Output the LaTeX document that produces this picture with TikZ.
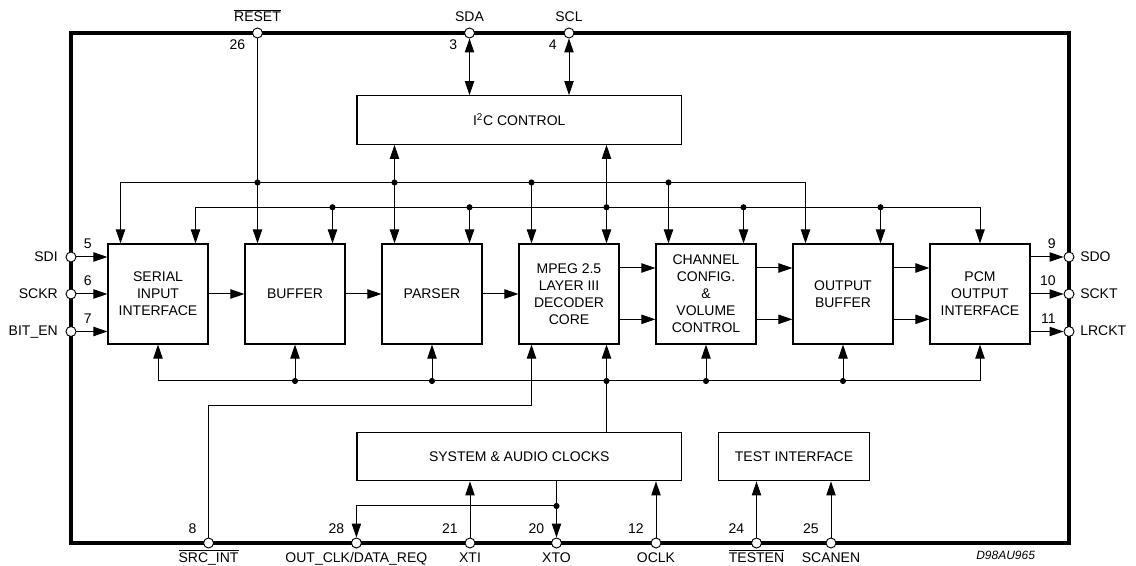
\documentclass[tikz,border=0pt]{standalone}
\usepackage{fontspec}
\setmainfont{Liberation Sans}
\usetikzlibrary{arrows.meta,calc}
\newcommand\blkfont{\fontsize{10.5}{12.75}\selectfont}
\newcommand\pinbar[1]{$\overline{\hbox{#1}}$}
\begin{document}
\begin{tikzpicture}[x=0.75pt,y=-0.75pt,
  >={Triangle[length=10.5pt,width=7pt]},
  wire/.style={line width=0.75pt},
  blk/.style={draw,line width=0.85pt,minimum width=75pt,minimum height=75pt,
    inner sep=0pt,align=center,font=\blkfont},
  wideblk/.style={draw,line width=0.85pt,minimum height=36.5pt,inner sep=0pt,font=\blkfont},
  pin/.style={circle,draw,fill=white,line width=0.7pt,minimum size=7.5pt,inner sep=0pt},
  jn/.style={circle,fill,minimum size=4.6pt,inner sep=0pt},
  lbl/.style={font=\blkfont,inner sep=0pt},
  pinname/.style={lbl,anchor=base},
  pinnum/.style={lbl,anchor=base east},
]
\useasboundingbox (0,0) rectangle (1136,566);

% chip outline
\coordinate (chipNW) at (71,33);
\coordinate (chipSE) at (1069,543);
\draw[line width=3pt] (chipNW) rectangle (chipSE);

% data path blocks
\node[blk] (serial) at (158,294) {SERIAL\\INPUT\\INTERFACE};
\node[blk] (buffer) at (295,294) {BUFFER};
\node[blk] (parser) at (432,294) {PARSER};
\node[blk] (mpeg)   at (569,294) {MPEG 2.5\\LAYER III\\DECODER\\CORE};
\node[blk] (chan)   at (706,294) {CHANNEL\\CONFIG.\\\&\\VOLUME\\CONTROL};
\node[blk] (obuf)   at (843,294) {OUTPUT\\BUFFER};
\node[blk] (pcm)    at (980,294) {PCM\\OUTPUT\\INTERFACE};

% control and clock blocks
\node[wideblk,minimum width=243.5pt] (i2c) at (519.3,120) {I\textsuperscript{2}C CONTROL};
\node[wideblk,minimum width=243.5pt] (sys) at (519.3,456.5) {SYSTEM \& AUDIO CLOCKS};
\node[wideblk,minimum width=112.7pt] (test) at (794,456.5) {TEST INTERFACE};

% tap points on the block edges
\foreach \n in {serial,buffer,parser,mpeg,chan,obuf,pcm}{
  \coordinate (\n-tl) at ($(\n.north)+(-37.5,0)$);
  \coordinate (\n-tr) at ($(\n.north)+(37.5,0)$);
  \coordinate (\n-bl) at ($(\n.south)+(-37.5,0)$);
  \coordinate (\n-br) at ($(\n.south)+(37.5,0)$);
}
% bus levels
\coordinate (busA) at (0,182.5);
\coordinate (busB) at (0,207.3);
\coordinate (busC) at (0,381);
\coordinate (srcY) at (0,406);
\coordinate (clkY) at (0,506);

% package pins
\node[pin] (reset)  at (buffer-tl |- chipNW) {};
\node[pin] (sda)    at (parser-tr |- chipNW) {};
\node[pin] (scl)    at (mpeg.north |- chipNW) {};
\node[pin] (sdi)    at (chipNW |- 0,257) {};
\node[pin] (sckr)   at (chipNW |- serial) {};
\node[pin] (biten)  at (chipNW |- 0,331.5) {};
\node[pin] (sdo)    at (chipSE |- 0,257) {};
\node[pin] (sckt)   at (chipSE |- pcm) {};
\node[pin] (lrckt)  at (chipSE |- 0,331.5) {};
\node[pin] (srcint) at (serial.east |- chipSE) {};
\node[pin] (outclk) at (sys.west |- chipSE) {};
\node[pin] (xti)    at (470,543) {};
\node[pin] (xto)    at (556.5,543) {};
\node[pin] (oclk)   at (656,543) {};
\node[pin] (testen) at (756.5,543) {};
\node[pin] (scanen) at (831,543) {};

% upper control bus
\draw[wire] (serial-tl |- busA) -- (obuf-tl |- busA);
\draw[wire,->] (serial-tl |- busA) -- (serial-tl);
\draw[wire,->] (reset) -- (buffer-tl);
\draw[wire,<->] (i2c.south -| parser-tl) -- (parser-tl);
\draw[wire,->] (mpeg-tl |- busA) -- (mpeg-tl);
\draw[wire,->] (chan-tl |- busA) -- (chan-tl);
\draw[wire,->] (obuf-tl |- busA) -- (obuf-tl);
\node[jn] (ja1) at (buffer-tl |- busA) {};
\node[jn] (ja2) at (parser-tl |- busA) {};
\node[jn] (ja3) at (mpeg-tl |- busA) {};
\node[jn] (ja4) at (chan-tl |- busA) {};

% second control bus
\draw[wire] (serial-tr |- busB) -- (pcm.north |- busB);
\draw[wire,->] (serial-tr |- busB) -- (serial-tr);
\draw[wire,->] (buffer-tr |- busB) -- (buffer-tr);
\draw[wire,->] (parser-tr |- busB) -- (parser-tr);
\draw[wire,<->] (i2c.south -| mpeg-tr) -- (mpeg-tr);
\draw[wire,->] (chan-tr |- busB) -- (chan-tr);
\draw[wire,->] (obuf-tr |- busB) -- (obuf-tr);
\draw[wire,->] (pcm.north |- busB) -- (pcm.north);
\node[jn] (jb1) at (buffer-tr |- busB) {};
\node[jn] (jb2) at (parser-tr |- busB) {};
\node[jn] (jb3) at (mpeg-tr |- busB) {};
\node[jn] (jb4) at (chan-tr |- busB) {};
\node[jn] (jb5) at (obuf-tr |- busB) {};

% I2C pins
\draw[wire,<->] (sda) -- (sda |- i2c.north);
\draw[wire,<->] (scl) -- (scl |- i2c.north);

% main data path
\draw[wire,->] (sdi) -- (sdi -| serial.west);
\draw[wire,->] (sckr) -- (sckr -| serial.west);
\draw[wire,->] (biten) -- (biten -| serial.west);
\draw[wire,->] (serial.east) -- (buffer.west);
\draw[wire,->] (buffer.east) -- (parser.west);
\draw[wire,->] (parser.east) -- (mpeg.west);
\foreach \a/\b in {mpeg/chan,chan/obuf,obuf/pcm}{
  \draw[wire,->] ([yshift=19.5pt]\a.east) -- ([yshift=19.5pt]\b.west);
  \draw[wire,->] ([yshift=-19pt]\a.east) -- ([yshift=-19pt]\b.west);
}
\draw[wire,->] (sdo -| pcm.east) -- (sdo);
\draw[wire,->] (sckt -| pcm.east) -- (sckt);
\draw[wire,->] (lrckt -| pcm.east) -- (lrckt);

% clock distribution bus
\draw[wire] (serial.south |- busC) -- (pcm.south |- busC);
\foreach \n in {serial,buffer,parser,chan,obuf,pcm}
  \draw[wire,->] (\n.south |- busC) -- (\n.south);
\draw[wire,->] (mpeg-br |- sys.north) -- (mpeg-br);
\node[jn] (jc1) at (buffer.south |- busC) {};
\node[jn] (jc2) at (parser.south |- busC) {};
\node[jn] (jc3) at (mpeg-br |- busC) {};
\node[jn] (jc4) at (chan.south |- busC) {};
\node[jn] (jc5) at (obuf.south |- busC) {};

% source interrupt
\draw[wire,->] (srcint) |- (mpeg-bl |- srcY) -- (mpeg-bl);

% clock pins
\draw[wire,->] (xti) -- (xti |- sys.south);
\draw[wire,->] (xto |- sys.south) -- (xto);
\draw[wire,->] (xto |- clkY) -| (outclk);
\node[jn] (jd1) at (xto |- clkY) {};
\draw[wire,->] (oclk) -- (oclk |- sys.south);
\draw[wire,->] (testen) -- (testen |- test.south);
\draw[wire,->] (scanen) -- (scanen |- test.south);

% pin names
\node[pinname] (n-reset) at ($(reset)+(0,-11)$) {\pinbar{RESET}};
\node[pinname] (n-sda) at ($(sda)+(0,-11)$) {SDA};
\node[pinname] (n-scl) at ($(scl)+(0,-11)$) {SCL};
\node[pinname] (n-srcint) at ($(srcint)+(0,19)$) {\pinbar{SRC\_INT}};
\node[pinname] (n-outclk) at ($(outclk)+(0,19)$) {OUT\_CLK/DATA\_REQ};
\node[pinname] (n-xti) at ($(xti)+(0,19)$) {XTI};
\node[pinname] (n-xto) at ($(xto)+(0,19)$) {XTO};
\node[pinname] (n-oclk) at ($(oclk)+(0,19)$) {OCLK};
\node[pinname] (n-testen) at ($(testen)+(0,19)$) {\pinbar{TESTEN}};
\node[pinname] (n-scanen) at ($(scanen)+(0,19)$) {SCANEN};
\node[lbl,anchor=base east] (n-sdi) at ($(sdi)+(-13,4.5)$) {SDI};
\node[lbl,anchor=base east] (n-sckr) at ($(sckr)+(-13,4.5)$) {SCKR};
\node[lbl,anchor=base east] (n-biten) at ($(biten)+(-13,4.5)$) {BIT\_EN};
\node[lbl,anchor=base west] (n-sdo) at ($(sdo)+(11,4.5)$) {SDO};
\node[lbl,anchor=base west] (n-sckt) at ($(sckt)+(11,4.5)$) {SCKT};
\node[lbl,anchor=base west] (n-lrckt) at ($(lrckt)+(11,4.5)$) {LRCKT};

% pin numbers
\node[pinnum] (p26) at ($(reset)+(-12,16.3)$) {26};
\node[pinnum] (p3) at ($(sda)+(-12,16.3)$) {3};
\node[pinnum] (p4) at ($(scl)+(-12,16.3)$) {4};
\node[lbl,anchor=base west] (p5) at ($(sdi)+(12.5,-8)$) {5};
\node[lbl,anchor=base west] (p6) at ($(sckr)+(12.5,-8)$) {6};
\node[lbl,anchor=base west] (p7) at ($(biten)+(12.5,-8)$) {7};
\node[pinnum] (p9) at ($(sdo)+(-13,-8)$) {9};
\node[pinnum] (p10) at ($(sckt)+(-13,-8)$) {10};
\node[pinnum] (p11) at ($(lrckt)+(-13,-8)$) {11};
\node[pinnum] (p8) at ($(srcint)+(-12,-9)$) {8};
\node[pinnum] (p28) at ($(outclk)+(-12,-9)$) {28};
\node[pinnum] (p21) at ($(xti)+(-12,-9)$) {21};
\node[pinnum] (p20) at ($(xto)+(-12,-9)$) {20};
\node[pinnum] (p12) at ($(oclk)+(-12,-9)$) {12};
\node[pinnum] (p24) at ($(testen)+(-12,-9)$) {24};
\node[pinnum] (p25) at ($(scanen)+(-12,-9)$) {25};

% drawing number
\node[lbl,anchor=base,font=\fontsize{9}{10}\selectfont\itshape] (dwg) at (1005.6,559.3) {D98AU965};
\end{tikzpicture}
\end{document}
